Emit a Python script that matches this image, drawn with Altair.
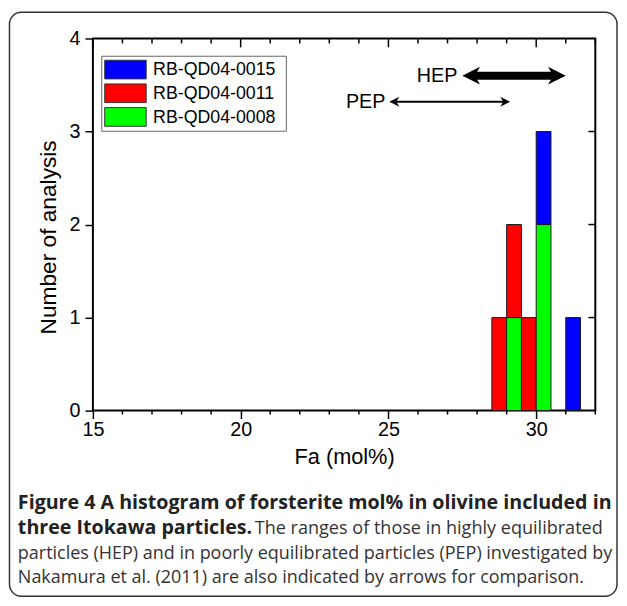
import altair as alt
import pandas as pd

# ---------------- data ----------------
series_names = ["RB-QD04-0015", "RB-QD04-0011", "RB-QD04-0008"]
series_colors = ["#0000FF", "#FF0000", "#00FF00"]
stack_order = ["RB-QD04-0008", "RB-QD04-0011", "RB-QD04-0015"]  # bottom -> top

bin_start = [28.5, 29.0, 29.0, 29.5, 30.0, 30.0, 31.0]
bin_end = [29.0, 29.5, 29.5, 30.0, 30.5, 30.5, 31.5]
bin_series = ["RB-QD04-0011", "RB-QD04-0008", "RB-QD04-0011", "RB-QD04-0011",
              "RB-QD04-0008", "RB-QD04-0015", "RB-QD04-0015"]
bin_count = [1, 1, 1, 1, 2, 1, 1]

x_tick_values = list(range(15, 33))
x_major_values = [15, 20, 25, 30]
y_tick_values = [0, 1, 2, 3, 4]
y_inner_ticks = [1, 2, 3]

arrow_labels = ["HEP", "PEP"]
arrow_from = [27.8, 25.2]
arrow_to = [30.7, 28.95]
arrow_y = [3.6, 3.32]

caption_bold = ["Figure 4 A histogram of forsterite mol% in olivine included in",
                "three Itokawa particles."]
caption_regular = ["The ranges of those in highly equilibrated",
                   "particles (HEP) and in poorly equilibrated particles (PEP) investigated by",
                   "Nakamura et al. (2011) are also indicated by arrows for comparison."]

x_title = "Fa (mol%)"
y_title = "Number of analysis"

# ---------------- layout ----------------
W, H = 509, 377
FONT = "Liberation Sans"
CAP_FONT = "Open Sans"

bars_df = pd.DataFrame({"start": bin_start, "end": bin_end,
                        "series": bin_series, "count": bin_count})
ticks_df = pd.DataFrame({"v": x_tick_values})
ticks_df["major"] = ticks_df["v"].isin(x_major_values)
yt_df = pd.DataFrame({"v": y_inner_ticks})
arrows_df = pd.DataFrame({"label": arrow_labels, "x0": arrow_from,
                          "x1": arrow_to, "y": arrow_y})
legend_df = pd.DataFrame({"series": series_names})

xscale = alt.Scale(domain=[15, 32], nice=False, zero=False)
yscale = alt.Scale(domain=[0, 4], nice=False)
color_scale = alt.Scale(domain=series_names, range=series_colors)

bottom_axis = alt.Axis(
    values=x_major_values, format="d",
    tickSize=8, tickColor="black", tickWidth=1.5, domain=False, grid=False,
    labelFont=FONT, labelFontSize=20, labelColor="black", labelPadding=1,
    title=x_title, titleFont=FONT, titleFontSize=22, titleFontWeight="normal",
    titleColor="black", titlePadding=8, labelOverlap=False, labelFlush=False,
)
left_axis = alt.Axis(
    values=y_tick_values, format="d", tickSize=8, tickColor="black", tickWidth=1.5,
    domain=False, grid=False, labelFont=FONT, labelFontSize=20, labelColor="black",
    labelPadding=5, title=y_title, titleFont=FONT, titleFontSize=23,
    titleFontWeight="normal", titleColor="black", titlePadding=9, titleY=201,
)

stack_expr = "indexof(" + str(stack_order).replace("'", "\"") + ", datum.series)"

bars = alt.Chart(bars_df).transform_calculate(
    rank=stack_expr
).transform_stack(
    stack="count", groupby=["start"], as_=["y0", "y1"],
    sort=[alt.SortField("rank", order="ascending")]
).mark_bar(stroke="#1a1a1a", strokeWidth=1).encode(
    x=alt.X("start:Q", scale=xscale, axis=bottom_axis),
    x2="end:Q",
    y=alt.Y("y0:Q", scale=yscale, axis=left_axis),
    y2="y1:Q",
    color=alt.Color("series:N", scale=color_scale, legend=None),
)

# minor ticks (bottom, outward) and mirrored ticks (top/right, inward)
bottom_minor = alt.Chart(ticks_df).transform_filter("!datum.major").mark_rule(
    color="black", strokeWidth=1.5).encode(
    x=alt.X("v:Q"), y=alt.value(H), y2=alt.value(H + 4))
top_minor = alt.Chart(ticks_df).transform_filter("!datum.major").mark_rule(
    color="black", strokeWidth=1.5).encode(
    x=alt.X("v:Q"), y=alt.value(0), y2=alt.value(5))
top_major = alt.Chart(ticks_df).transform_filter("datum.major").mark_rule(
    color="black", strokeWidth=1.5).encode(
    x=alt.X("v:Q"), y=alt.value(0), y2=alt.value(9))
right_ticks = alt.Chart(yt_df).mark_rule(color="black", strokeWidth=1.5).encode(
    y=alt.Y("v:Q"), x=alt.value(W), x2=alt.value(W - 7))

RIGHT_HEAD = "M1,0L-1,-1L-0.4,0L-1,1Z"
LEFT_HEAD = "M-1,0L1,-1L0.4,0L1,1Z"


def arrow_layers(label, body_w, head_size, text_dx):
    base = alt.Chart(arrows_df).transform_filter(alt.datum.label == label)
    body = base.mark_rule(color="black", strokeWidth=body_w).encode(
        x=alt.X("x0:Q"), x2="x1:Q", y=alt.Y("y:Q"))
    head_r = base.mark_point(shape=RIGHT_HEAD, size=head_size, filled=True,
                             color="black", opacity=1).encode(
        x=alt.X("x1:Q"), y=alt.Y("y:Q"))
    head_l = base.mark_point(shape=LEFT_HEAD, size=head_size, filled=True,
                             color="black", opacity=1).encode(
        x=alt.X("x0:Q"), y=alt.Y("y:Q"))
    txt = base.mark_text(align="right", baseline="middle", dx=text_dx, dy=0,
                         font=FONT, fontSize=20, color="black").encode(
        x=alt.X("x0:Q"), y=alt.Y("y:Q"), text="label:N")
    return [body, head_r, head_l, txt]


# manual legend (frame + one row per series)
one = pd.DataFrame({"a": [0]})
legend_layers = [alt.Chart(one).mark_rect(fill="white", stroke="#666", strokeWidth=1).encode(
    x=alt.value(9), x2=alt.value(196), y=alt.value(18), y2=alt.value(94))]
row_y = [31.5, 55.5, 79.5]
for i, name in enumerate(series_names):
    sub = alt.Chart(legend_df).transform_filter(alt.datum.series == name)
    legend_layers.append(sub.mark_point(
        shape="M-1,-0.45H1V0.45H-1Z", size=1764, filled=True, opacity=1,
        stroke="#333", strokeWidth=1).encode(
        x=alt.value(33), y=alt.value(row_y[i]),
        color=alt.Color("series:N", scale=color_scale, legend=None)))
    legend_layers.append(sub.mark_text(
        align="left", baseline="middle", font=FONT, fontSize=18, color="black").encode(
        x=alt.value(61), y=alt.value(row_y[i] + 1), text="series:N"))

# caption + border
border = alt.Chart(one).mark_rect(fillOpacity=0, stroke="#333", strokeWidth=1.5,
                                  cornerRadius=12).encode(
    x=alt.value(-84.5), x2=alt.value(531), y=alt.value(-26.5), y2=alt.value(565))

cap_x = -76
cap_base = 477
cap_step = 25
caps = []
for i, t in enumerate(caption_bold):
    caps.append(alt.Chart(pd.DataFrame({"t": [t]})).mark_text(
        align="left", baseline="alphabetic", font=CAP_FONT, fontSize=19.9,
        fontWeight="bold", color="#222").encode(
        text="t:N", x=alt.value(cap_x), y=alt.value(cap_base + cap_step * i)))
caps.append(alt.Chart(pd.DataFrame({"t": [caption_regular[0]]})).mark_text(
    align="left", baseline="alphabetic", font=CAP_FONT, fontSize=18.3,
    color="#333").encode(
    text="t:N", x=alt.value(cap_x + 240), y=alt.value(cap_base + cap_step)))
for i in range(1, 3):
    caps.append(alt.Chart(pd.DataFrame({"t": [caption_regular[i]]})).mark_text(
        align="left", baseline="alphabetic", font=CAP_FONT, fontSize=18.2,
        color="#333").encode(
        text="t:N", x=alt.value(cap_x), y=alt.value(cap_base + cap_step * (i + 1))))

chart = alt.layer(
    bars, bottom_minor, top_minor, top_major, right_ticks,
    *arrow_layers("HEP", 8, 324, -14),
    *arrow_layers("PEP", 2, 100, -9),
    *legend_layers, border, *caps
).properties(
    width=W, height=H,
    autosize=alt.AutoSizeParams(type="none"),
    padding={"left": 86, "top": 27, "right": 24, "bottom": 188},
    background="white",
).configure_view(stroke="black", strokeWidth=2)

chart.save("out.html", embed_options={"renderer": "svg", "actions": False})
